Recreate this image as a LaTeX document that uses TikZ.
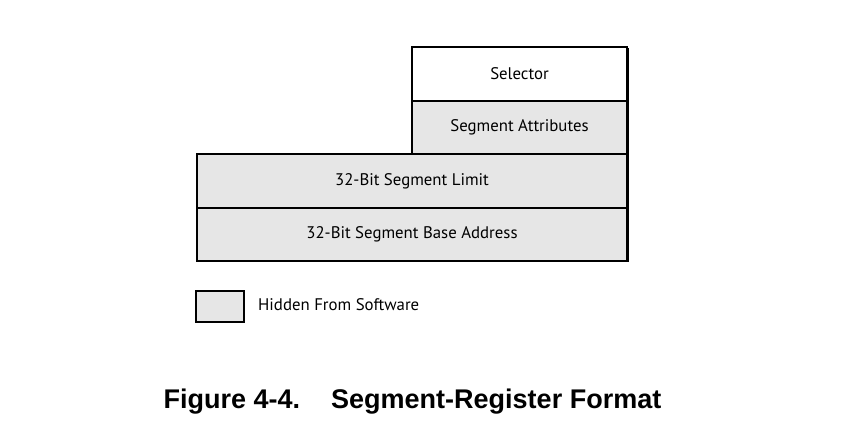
\documentclass[tikz,border=0pt]{standalone}
\usepackage{fontspec}
\setmainfont{PT Sans}
\newfontfamily\capfont{Liberation Sans}
\definecolor{hid}{HTML}{E6E6E6}
\begin{document}
\begin{tikzpicture}[x=1pt,y=-1pt,
  txt/.style={font=\fontsize{16.8}{19}\selectfont},
  field/.style={draw=black,line width=2pt,inner sep=0pt,anchor=north west,txt}]
\useasboundingbox (0,0) rectangle (845,439);
% shadows
\fill (413,48) rectangle (629,155);
\fill (198,155) rectangle (629,262);
\fill (197,292) rectangle (245,323);
% fields
\node[field,fill=white,minimum width=215pt,minimum height=54pt] (sel) at (411,46) {Selector};
\node[field,fill=hid,minimum width=215pt,minimum height=53pt] (attr) at (411,100) {Segment Attributes};
\node[field,fill=hid,minimum width=430pt,minimum height=54pt] (lim) at (196,153) {32-Bit Segment Limit};
\node[field,fill=hid,minimum width=430pt,minimum height=53pt] (base) at (196,207) {32-Bit Segment Base Address};
% legend
\node[field,fill=hid,minimum width=48pt,minimum height=31pt] (leg) at (195,290) {};
\node[anchor=west,inner sep=0pt,txt] (legt) at (258,305) {Hidden From Software};
% caption
\node[inner sep=0pt,font=\capfont\bfseries\fontsize{27}{30}\selectfont] (cap) at (412.5,402) {Figure 4-4.\hspace{31pt}Segment-Register Format};
\end{tikzpicture}
\end{document}
